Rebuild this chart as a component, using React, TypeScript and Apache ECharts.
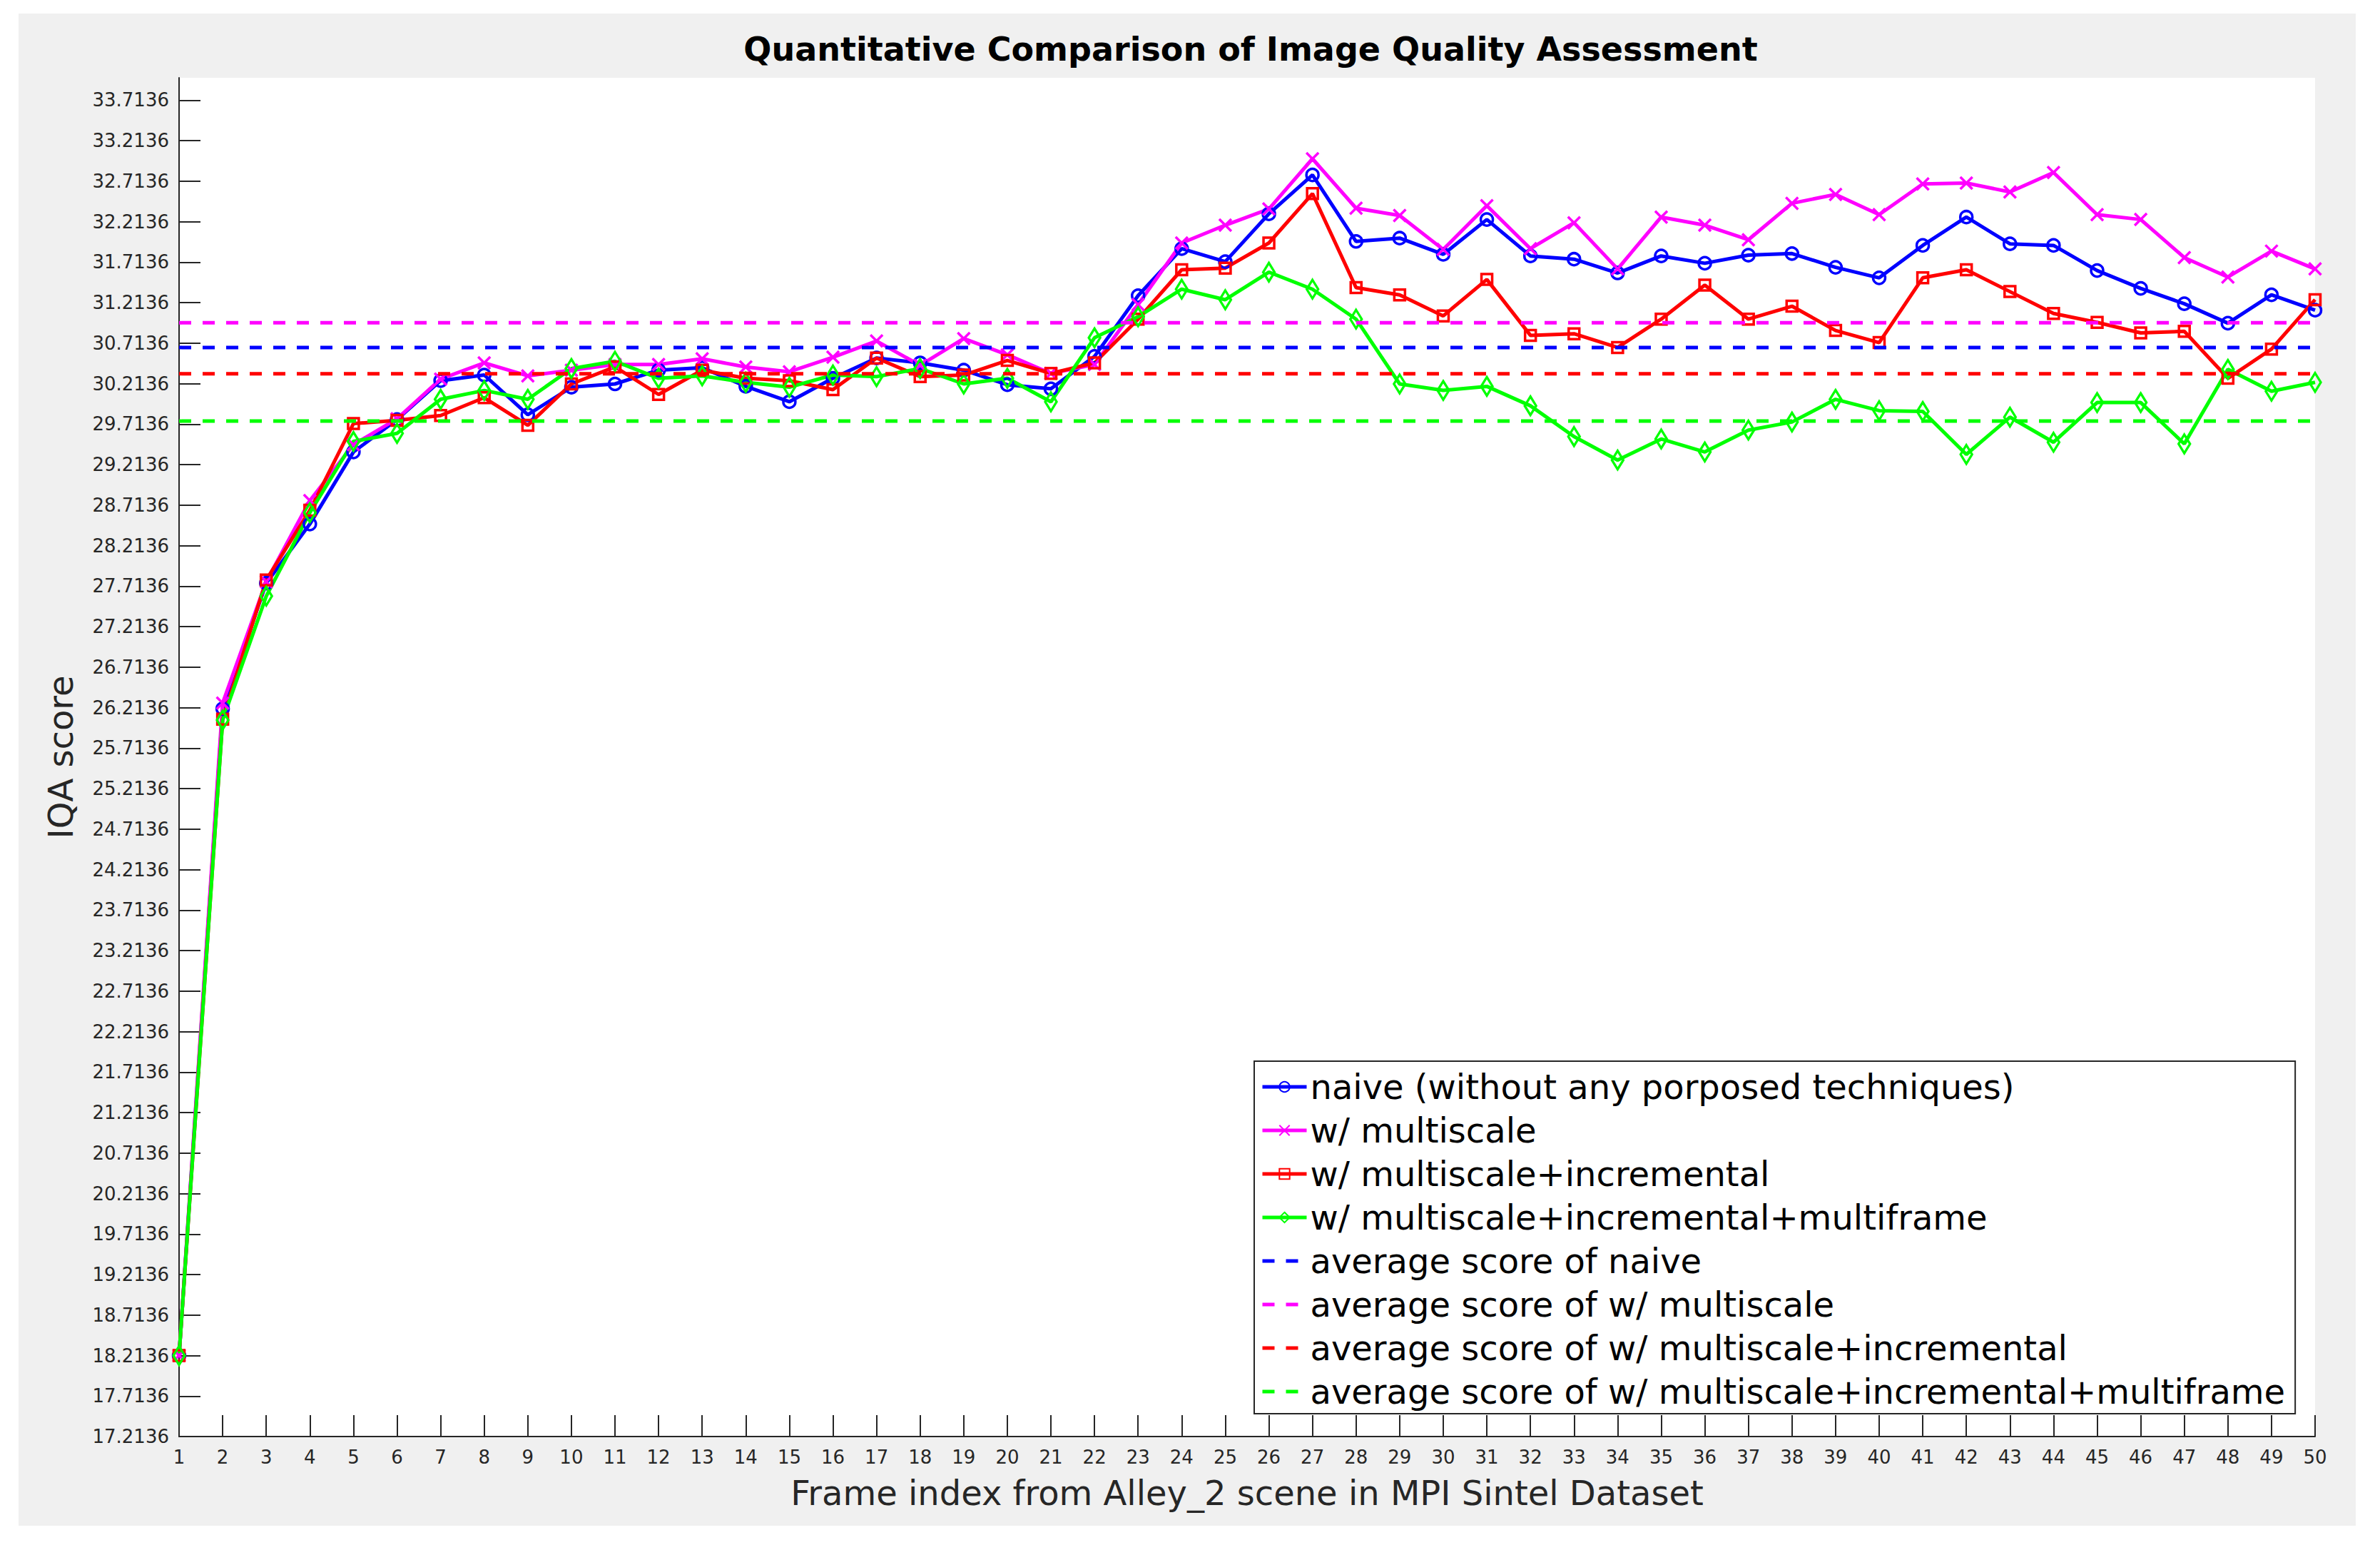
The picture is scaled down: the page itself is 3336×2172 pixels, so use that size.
import React, { useEffect, useRef } from "react";
import * as echarts from "echarts";

const frames = [
  1, 2, 3, 4, 5, 6, 7, 8, 9, 10, 11, 12, 13, 14, 15, 16, 17, 18, 19, 20, 21, 22, 23, 24, 25,
  26, 27, 28, 29, 30, 31, 32, 33, 34, 35, 36, 37, 38, 39, 40, 41, 42, 43, 44, 45, 46, 47, 48, 49, 50,
];

const naive = [
  18.2136, 26.2, 27.75, 28.48, 29.37, 29.77, 30.25, 30.32, 29.83, 30.17,
  30.21, 30.38, 30.41, 30.18, 29.99, 30.28, 30.53, 30.47, 30.38, 30.2,
  30.15, 30.55, 31.3, 31.88, 31.72, 32.31, 32.79, 31.97, 32.01, 31.81,
  32.24, 31.79, 31.75, 31.58, 31.79, 31.7, 31.8, 31.82, 31.65, 31.52,
  31.92, 32.27, 31.94, 31.92, 31.61, 31.39, 31.2, 30.96, 31.31, 31.12,
];

const multiscale = [
  18.2136, 26.27, 27.77, 28.77, 29.46, 29.78, 30.27, 30.47, 30.31, 30.38,
  30.45, 30.45, 30.52, 30.42, 30.36, 30.54, 30.74, 30.44, 30.77, 30.57,
  30.34, 30.45, 31.19, 31.95, 32.17, 32.37, 32.99, 32.38, 32.29, 31.87,
  32.41, 31.88, 32.2, 31.63, 32.27, 32.17, 31.99, 32.44, 32.55, 32.3,
  32.68, 32.69, 32.58, 32.82, 32.3, 32.24, 31.77, 31.53, 31.85, 31.63,
];

const incremental = [
  18.2136, 26.07, 27.79, 28.65, 29.72, 29.76, 29.82, 30.04, 29.7, 30.21,
  30.42, 30.08, 30.38, 30.28, 30.25, 30.14, 30.53, 30.3, 30.32, 30.5,
  30.34, 30.47, 31.01, 31.62, 31.64, 31.95, 32.56, 31.4, 31.31, 31.05,
  31.5, 30.81, 30.83, 30.66, 31.01, 31.43, 31.01, 31.17, 30.87, 30.72,
  31.52, 31.62, 31.35, 31.08, 30.97, 30.84, 30.86, 30.28, 30.64, 31.25,
];

const multiframe = [
  18.2136, 26.06, 27.59, 28.62, 29.5, 29.6, 30.02, 30.13, 30.02, 30.4,
  30.49, 30.28, 30.31, 30.23, 30.17, 30.32, 30.3, 30.4, 30.21, 30.28,
  29.99, 30.78, 31.04, 31.38, 31.25, 31.59, 31.38, 31.01, 30.21, 30.13,
  30.18, 29.94, 29.56, 29.27, 29.53, 29.37, 29.64, 29.74, 30.02, 29.88,
  29.87, 29.34, 29.8, 29.49, 29.98, 29.98, 29.47, 30.39, 30.12, 30.23,
];

const averages = [30.66, 30.965, 30.336, 29.751];

const yTickLabels = [
  17.2136, 17.7136, 18.2136, 18.7136, 19.2136, 19.7136, 20.2136, 20.7136, 21.2136,
  21.7136, 22.2136, 22.7136, 23.2136, 23.7136, 24.2136, 24.7136, 25.2136, 25.7136,
  26.2136, 26.7136, 27.2136, 27.7136, 28.2136, 28.7136, 29.2136, 29.7136, 30.2136,
  30.7136, 31.2136, 31.7136, 32.2136, 32.7136, 33.2136, 33.7136,
];

const seriesNames = [
  "naive (without any porposed techniques)",
  "w/ multiscale",
  "w/ multiscale+incremental",
  "w/ multiscale+incremental+multiframe",
];
const averageNames = [
  "average score of naive",
  "average score of w/ multiscale",
  "average score of w/ multiscale+incremental",
  "average score of w/ multiscale+incremental+multiframe",
];
const colors = ["#0000ff", "#ff00ff", "#ff0000", "#00ff00"];

const FONT = "DejaVu Sans";
const AXIS_COLOR = "#262626";

export default function App() {
  const ref = useRef<HTMLDivElement>(null);

  useEffect(() => {
    if (!ref.current) return;
    const chart = echarts.init(ref.current, undefined, { renderer: "svg" });

    const values = [naive, multiscale, incremental, multiframe];
    const symbols: any[] = ["circle", "path://M0,0L10,10M10,0L0,10", "rect", "diamond"];
    const sizes: any[] = [17, 17, 15, [16, 26]];

    const mainSeries = values.map((arr, k) => ({
      name: seriesNames[k],
      type: "line",
      data: frames.map((f, i) => [f, arr[i]]),
      symbol: symbols[k],
      symbolSize: sizes[k],
      showAllSymbol: true,
      color: colors[k],
      lineStyle: { color: colors[k], width: 5 },
      itemStyle: { color: "rgba(0,0,0,0)", borderColor: colors[k], borderWidth: 3.5 },
      emphasis: { disabled: true },
      silent: true,
      z: 2,
    }));

    const avgSeries = averages.map((a, k) => ({
      name: averageNames[k],
      type: "line",
      data: [
        [frames[0], a],
        [frames[frames.length - 1], a],
      ],
      symbol: "none",
      color: colors[k],
      lineStyle: { color: colors[k], width: 5, type: [17, 16] },
      itemStyle: { color: "rgba(0,0,0,0)", borderWidth: 0 },
      emphasis: { disabled: true },
      silent: true,
      z: 3,
    }));

    chart.setOption({
      animation: false,
      backgroundColor: "transparent",
      title: {
        text: "Quantitative Comparison of Image Quality Assessment",
        left: 1748,
        top: 41,
        textAlign: "center",
        textStyle: { fontFamily: FONT, fontWeight: "bold", fontSize: 46, color: "#000" },
      },
      grid: {
        left: 251,
        top: 109,
        width: 2994,
        height: 1904,
        show: true,
        backgroundColor: "#ffffff",
        borderWidth: 0,
      },
      legend: {
        orient: "vertical",
        left: 1758,
        top: 1487,
        padding: [11, 14, 6, 9],
        itemGap: 11,
        itemWidth: 62,
        itemHeight: 18,
        backgroundColor: "#ffffff",
        borderColor: AXIS_COLOR,
        borderWidth: 2,
        selectedMode: false,
        lineStyle: { width: 5 },
        textStyle: { fontFamily: FONT, fontSize: 48, color: "#000", lineHeight: 50 },
        data: [...seriesNames, ...averageNames],
      },
      xAxis: {
        type: "value",
        min: 1,
        max: 50,
        interval: 1,
        name: "Frame index from Alley_2 scene in MPI Sintel Dataset",
        nameLocation: "middle",
        nameGap: 55,
        nameTextStyle: { fontFamily: FONT, fontSize: 48, color: AXIS_COLOR },
        axisLine: { show: true, onZero: false, lineStyle: { color: AXIS_COLOR, width: 2 } },
        axisTick: { show: true, inside: true, length: 30, lineStyle: { color: AXIS_COLOR, width: 2 } },
        axisLabel: { fontFamily: FONT, fontSize: 26, color: AXIS_COLOR, margin: 16 },
        splitLine: { show: false },
      },
      yAxis: {
        type: "value",
        min: 17.2136,
        max: 33.99,
        name: "IQA score",
        nameLocation: "middle",
        nameGap: 142,
        nameTextStyle: { fontFamily: FONT, fontSize: 48, color: AXIS_COLOR },
        axisLine: { show: true, onZero: false, lineStyle: { color: AXIS_COLOR, width: 2 } },
        axisTick: {
          show: true,
          inside: true,
          length: 30,
          customValues: yTickLabels,
          lineStyle: { color: AXIS_COLOR, width: 2 },
        },
        axisLabel: {
          customValues: yTickLabels,
          formatter: (v: number) => v.toFixed(4),
          fontFamily: FONT,
          fontSize: 26,
          color: AXIS_COLOR,
          margin: 14,
        },
        splitLine: { show: false },
      },
      series: [...mainSeries, ...avgSeries],
    });

    return () => chart.dispose();
  }, []);

  return (
    <div style={{ position: "fixed", left: 0, top: 0, width: 3336, height: 2172, background: "#ffffff" }}>
      <div style={{ position: "absolute", left: 26, top: 19, width: 3276, height: 2119, background: "#f0f0f0" }} />
      <div ref={ref} style={{ position: "absolute", left: 0, top: 0, width: 3336, height: 2172 }} />
    </div>
  );
}
